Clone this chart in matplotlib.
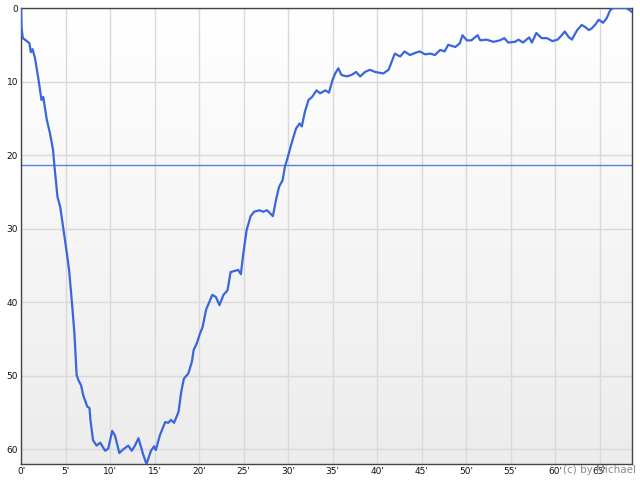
import numpy as np
import matplotlib
matplotlib.use("Agg")
import matplotlib.pyplot as plt
from matplotlib.ticker import FixedLocator, FuncFormatter
from matplotlib.colors import LinearSegmentedColormap

minutes = [0, 0.05, 0.2, 0.55, 0.95, 1.1, 1.3, 1.57, 1.95, 2.2, 2.3, 2.5, 2.9, 3.25, 3.6, 3.75,
           4.1, 4.4, 4.75, 5.1, 5.4, 5.7, 6.0, 6.25, 6.45, 6.75, 7.0, 7.45, 7.7, 7.8, 8.1,
           8.5, 8.9, 9.45, 9.8, 10.25, 10.55, 11.05, 11.5, 12.05, 12.45, 12.8, 13.2, 13.7,
           14.1, 14.6, 14.95, 15.15, 15.6, 16.2, 16.55, 16.85, 17.2, 17.7, 18.0, 18.3, 18.8,
           19.2, 19.4, 19.75, 20.1, 20.4, 20.8, 21.15, 21.5, 21.9, 22.3, 22.75, 23.2, 23.55,
           24.15, 24.4, 24.7, 25.0, 25.35, 25.8, 26.2, 26.8, 27.2, 27.65, 28.3, 28.65, 29.0,
           29.4, 29.65, 29.9, 30.4, 30.9, 31.3, 31.55, 31.9, 32.3, 32.7, 33.2, 33.6, 34.2,
           34.6, 35.0, 35.3, 35.65, 36.0, 36.6, 37.15, 37.65, 38.1, 38.65, 39.2, 39.8, 40.7,
           41.3, 41.65, 42.0, 42.6, 43.1, 43.7, 44.3, 44.8, 45.4, 46.0, 46.5, 47.1, 47.6,
           48.0, 48.8, 49.3, 49.6, 50.1, 50.6, 51.3, 51.6, 52.3, 53.1, 53.8, 54.3, 54.75,
           55.5, 55.9, 56.4, 57.1, 57.4, 57.9, 58.5, 59.1, 59.7, 60.3, 60.9, 61.1, 61.5,
           61.9, 62.3, 62.5, 63.0, 63.4, 63.8, 64.1, 64.5, 64.9, 65.4, 65.8, 66.2, 66.55,
           67.3, 68.0, 68.4, 68.6]
values = [0, 2.5, 4.1, 4.4, 4.8, 6.0, 5.6, 6.8, 9.6, 11.6, 12.5, 12.1, 15.2, 17.0, 19.3, 21.4,
          25.7, 27.0, 29.9, 32.9, 35.6, 39.7, 44.2, 49.9, 50.6, 51.3, 52.7, 54.2, 54.4, 56.0, 58.8,
          59.5, 59.1, 60.2, 59.9, 57.5, 58.1, 60.5, 60.0, 59.5, 60.2, 59.5, 58.5, 60.6,
          62.0, 60.2, 59.6, 60.1, 58.1, 56.3, 56.4, 56.0, 56.4, 54.9, 52.2, 50.4, 49.7,
          48.1, 46.5, 45.6, 44.3, 43.4, 41.0, 40.0, 39.0, 39.3, 40.4, 39.0, 38.4, 35.9,
          35.7, 35.6, 36.2, 33.2, 30.2, 28.3, 27.7, 27.5, 27.7, 27.5, 28.3, 26.1, 24.3,
          23.4, 21.6, 20.6, 18.4, 16.4, 15.7, 16.1, 14.1, 12.5, 12.1, 11.2, 11.6, 11.2,
          11.5, 9.8, 8.9, 8.2, 9.1, 9.3, 9.1, 8.7, 9.3, 8.7, 8.4, 8.7, 8.9,
          8.4, 7.3, 6.2, 6.6, 5.9, 6.4, 6.1, 5.9, 6.3, 6.2, 6.4, 5.7, 5.9,
          5.0, 5.3, 4.8, 3.7, 4.4, 4.4, 3.7, 4.4, 4.3, 4.6, 4.4, 4.1, 4.7,
          4.6, 4.3, 4.7, 4.0, 4.7, 3.4, 4.1, 4.1, 4.5, 4.3, 3.5, 3.2, 3.9,
          4.3, 3.4, 3.0, 2.3, 2.6, 3.0, 2.8, 2.3, 1.6, 2.0, 1.4, 0.3, 0.0,
          0.0, 0.0, 0.3, 0.5]
reference_level = 21.3
x_ticks = [0, 5, 10, 15, 20, 25, 30, 35, 40, 45, 50, 55, 60, 65]
y_ticks = [0, 10, 20, 30, 40, 50, 60]
x_max = 68.65
y_max = 62.0
credit = "(c) by Michael"

fig = plt.figure(figsize=(6.4, 4.8), dpi=100)
ax = fig.add_axes([21/640, 1-464/480, (632-21)/640, (464-8)/480])

# gradient background
grad = np.linspace(0, 1, 256).reshape(-1, 1)
cmap = LinearSegmentedColormap.from_list("bg", ["#ffffff", "#ececec"])
ax.imshow(grad, aspect="auto", cmap=cmap, extent=[0, 1, 0, 1], transform=ax.transAxes,
          zorder=0, origin="upper")

ax.set_xlim(0, x_max)
ax.set_ylim(y_max, 0)
ax.xaxis.set_major_locator(FixedLocator(x_ticks))
ax.yaxis.set_major_locator(FixedLocator(y_ticks))
ax.xaxis.set_major_formatter(FuncFormatter(lambda v, p: f"{int(v)}'"))
ax.yaxis.set_major_formatter(FuncFormatter(lambda v, p: f"{int(v)}"))
ax.grid(True, color="#d9d9d9", linewidth=1.0, zorder=1)
ax.set_axisbelow(True)
ax.tick_params(length=0, labelsize=6.5, colors="#111111", pad=2)
for s in ax.spines.values():
    s.set_color("#444444")
    s.set_linewidth(1.0)

ax.axhline(reference_level, color="#5b7fdc", linewidth=1.0, zorder=2)
ax.plot(minutes, values, color="#3a66dd", linewidth=1.6, zorder=3, solid_joinstyle="round")

fig.text(636/640, 1-470/480, credit, ha="right", va="center", fontsize=7.5, color="#8a8a8a")

fig.savefig("out.png", dpi=100)
